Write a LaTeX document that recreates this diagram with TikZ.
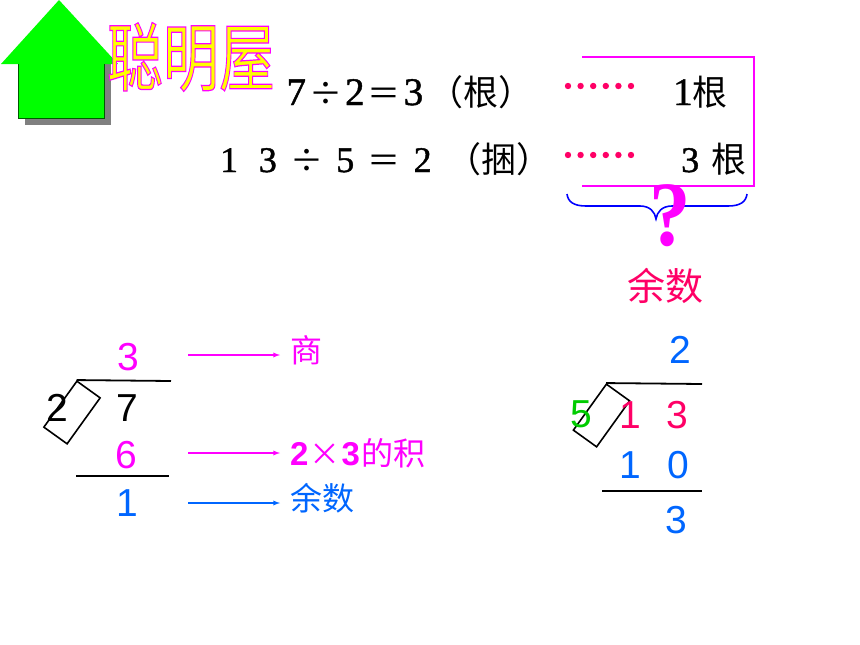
\documentclass[tikz,border=0pt]{standalone}
\usepackage{fontspec}
\setmainfont{Liberation Serif}
\setsansfont{Liberation Sans}
\newfontfamily\cjk{Noto Sans CJK SC}
\newfontfamily\heavy[FakeBold=1.2]{Liberation Serif}
\definecolor{rosered}{HTML}{FF0066}
\definecolor{skyblue}{HTML}{0066FF}
\definecolor{limegreen}{HTML}{00CC00}
\definecolor{housegreen}{HTML}{00FF00}
\definecolor{pinkline}{HTML}{FF00FF}
\usetikzlibrary{positioning, calc}
\newcommand{\cella}[1]{\makebox[29.3pt]{#1}}
\newcommand{\cellb}[1]{\makebox[38.7pt]{#1}}

\begin{document}
\begin{tikzpicture}[x=1pt, y=-1pt]
\tikzstyle{digit}=[font=\fontsize{39}{39}\selectfont\sffamily, inner sep=0pt]
\tikzstyle{sumline}=[font=\fontsize{39}{39}\selectfont\heavy, inner sep=0pt, anchor=base west]
\tikzstyle{note}=[font=\fontsize{32}{32}\selectfont\cjk, inner sep=0pt, anchor=west]
\tikzstyle{divbox}=[draw=black, line width=1.6pt, minimum width=56.6pt, minimum height=28.6pt,
inner sep=0pt, rotate=54.3]
\tikzstyle{bar}=[draw=black, line width=1.8pt]
\tikzstyle{pointer}=[-latex, line width=1.3pt, shorten >=10pt]
\tikzstyle{dots}=[rosered, line width=6.4pt, line cap=round, dash pattern=on 0pt off 12.6pt]

\useasboundingbox (0,0) rectangle (860,645);

% house
\fill[gray] (25,64) -- (111,64) -- (111,125) -- (25,125) -- cycle;
\fill[housegreen] (59,0) -- (118,64) -- (104,64) -- (104,118) -- (18,118) -- (18,64) -- (1,64) -- cycle;
\draw[green!35!black, line width=0.7pt] (18,64) -- (18,118) -- (104,118) -- (104,64);

% title
\node (title) at (191,57) [inner sep=0pt, font=\fontsize{56}{56}\selectfont\cjk]
  {\scalebox{1}[1.33]{\special{pdf:code q 2 Tr 0.9 w 1 0 1 RG 1 1 0 rg}聪明屋\special{pdf:code Q}}};

% sums
\node (sumone) at (281.4,105) [sumline]
  {\cella{7}\cella{\cjk\fontsize{33}{33}\selectfont ÷}\cella{2}\cella{\cjk\fontsize{33}{33}\selectfont ＝}\cella{3}{\fontsize{35}{35}\selectfont\cjk （根）}};
\node (sumtwo) at (209.6,172) [sumline, font=\fontsize{36}{36}\selectfont\heavy]
  {\cellb{1}\cellb{3}\cellb{\cjk\fontsize{33}{33}\selectfont ÷}\cellb{5}\cellb{\cjk\fontsize{33}{33}\selectfont ＝}\cellb{2}\hspace{4pt}{\fontsize{35}{35}\selectfont\cjk （捆）}};
\node (restone) at (673,105) [sumline] {1{\fontsize{35}{35}\selectfont\cjk 根}};
\node (resttwo) at (681,172) [sumline, font=\fontsize{36}{36}\selectfont\heavy] {3\hspace{12pt}{\fontsize{35}{35}\selectfont\cjk 根}};

\coordinate (dotsa) at (568,86);
\coordinate (dotsaend) at (634,86);
\coordinate (dotsb) at (568,155);
\coordinate (dotsbend) at (634,155);
\draw[dots] (dotsa) -- (dotsaend);
\draw[dots] (dotsb) -- (dotsbend);

% bracket and brace
\coordinate (brtop) at (582,57);
\coordinate (brbot) at (582,186);
\draw[pinkline, line width=2pt] (brtop) -- (brtop -| 754,0) -- (brbot -| 754,0) -- (brbot);
\coordinate (braceleft) at (567,194);
\coordinate (braceright) at (747,194);
\coordinate (bracetip) at (656,219);
\draw[blue, line width=1.6pt] (braceleft) .. controls (568,202) and (574,206) .. (586,206)
  -- (640,206) .. controls (650,206) and (655,212) .. (bracetip)
  .. controls (657,212) and (662,206) .. (672,206) -- (728,206)
  .. controls (740,206) and (746,202) .. (braceright);
\node (quest) at (670,216) [inner sep=0pt, text=pinkline,
  font=\fontsize{92}{92}\selectfont\rmfamily\bfseries] {\scalebox{0.9}[1]{?}};
\node (rest) at (665.5,286) [inner sep=0pt, text=rosered, font=\fontsize{38}{38}\selectfont\cjk] {余数};

% left division
\node (divleft) at (72,412.5) [divbox] {};
\node (threeq) at (128,357) [digit, text=pinkline] {3};
\node (twol) at (57,408) [digit] {2};
\node (seven) at (127,408) [digit] {7};
\node (six) at (126,455) [digit, text=pinkline] {6};
\node (onel) at (127,503) [digit, text=skyblue] {1};
\coordinate (barlend) at (171,381);
\coordinate (undera) at (76,476);
\coordinate (underaend) at (169,476);
\draw[bar] (divleft.north east) -- (barlend);
\draw[bar] (undera) -- (underaend);

% labels
\node (shang) at (290,350) [note, text=pinkline] {商};
\node (prod) at (290,453) [note, text=pinkline]
  {{\sffamily\bfseries\fontsize{33}{33}\selectfont 2}\hspace{1pt}{\fontsize{31}{31}\selectfont\cjk ×}\hspace{1pt}{\sffamily\bfseries\fontsize{33}{33}\selectfont 3}\hspace{2pt}{\cjk 的积}};
\node (restl) at (290,498) [note, text=skyblue] {余数};
\coordinate (pa) at (188,355);
\coordinate (pb) at (188,453);
\coordinate (pc) at (188,503);
\draw[pointer, pinkline] (pa) -- (pa -| shang.west);
\draw[pointer, pinkline] (pb) -- (pb -| prod.west);
\draw[pointer, skyblue] (pc) -- (pc -| restl.west);

% right division
\node (divright) at (601.5,415.5) [divbox] {};
\node (twoq) at (680,350) [digit, text=skyblue] {2};
\node (five) at (581,414) [digit, text=limegreen] {5};
\node (oner) at (630,415) [digit, text=rosered] {1};
\node (threer) at (677,415) [digit, text=rosered] {3};
\node (onex) at (630,465) [digit, text=skyblue] {1};
\node (zero) at (678,465) [digit, text=skyblue] {0};
\node (threes) at (676,520) [digit, text=skyblue] {3};
\coordinate (barrend) at (702,384);
\coordinate (underb) at (602,491);
\coordinate (underbend) at (702,491);
\draw[bar] (divright.north east) -- (barrend);
\draw[bar] (underb) -- (underbend);

\end{tikzpicture}
\end{document}
